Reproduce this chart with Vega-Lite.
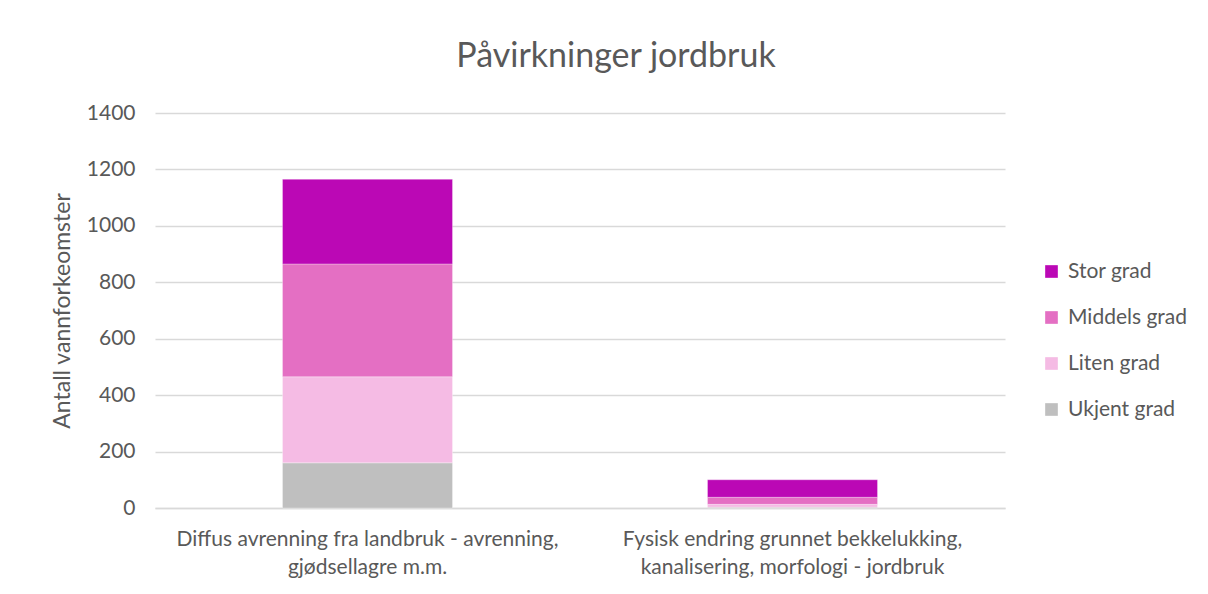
{
  "$schema": "https://vega.github.io/schema/vega-lite/v6.json",
  "width": 850,
  "height": 395,
  "autosize": "none",
  "padding": {"left": 155, "top": 113, "right": 203, "bottom": 86},
  "background": "white",
  "title": {
    "text": "Påvirkninger jordbruk",
    "font": "Lato",
    "fontSize": 34,
    "fontWeight": "normal",
    "color": "#595959",
    "anchor": "middle",
    "dx": 36,
    "offset": 28
  },
  "data": {
    "values": [
      {"kategori": "Diffus avrenning fra landbruk - avrenning, gjødsellagre m.m.", "grad": "Ukjent grad", "rekke": 1, "antall": 160},
      {"kategori": "Diffus avrenning fra landbruk - avrenning, gjødsellagre m.m.", "grad": "Liten grad", "rekke": 2, "antall": 305},
      {"kategori": "Diffus avrenning fra landbruk - avrenning, gjødsellagre m.m.", "grad": "Middels grad", "rekke": 3, "antall": 400},
      {"kategori": "Diffus avrenning fra landbruk - avrenning, gjødsellagre m.m.", "grad": "Stor grad", "rekke": 4, "antall": 300},
      {"kategori": "Fysisk endring grunnet bekkelukking, kanalisering, morfologi - jordbruk", "grad": "Ukjent grad", "rekke": 1, "antall": 3},
      {"kategori": "Fysisk endring grunnet bekkelukking, kanalisering, morfologi - jordbruk", "grad": "Liten grad", "rekke": 2, "antall": 10},
      {"kategori": "Fysisk endring grunnet bekkelukking, kanalisering, morfologi - jordbruk", "grad": "Middels grad", "rekke": 3, "antall": 25},
      {"kategori": "Fysisk endring grunnet bekkelukking, kanalisering, morfologi - jordbruk", "grad": "Stor grad", "rekke": 4, "antall": 62}
    ]
  },
  "mark": {"type": "bar", "stroke": "white", "strokeWidth": 0.5, "strokeOpacity": 0.6},
  "encoding": {
    "x": {
      "field": "kategori",
      "type": "nominal",
      "sort": null,
      "scale": {"paddingInner": 0.6, "paddingOuter": 0.3},
      "axis": {
        "title": null,
        "labelAngle": 0,
        "labelExpr": "datum.value == 'Diffus avrenning fra landbruk - avrenning, gjødsellagre m.m.' ? ['Diffus avrenning fra landbruk - avrenning,', 'gjødsellagre m.m.'] : ['Fysisk endring grunnet bekkelukking,', 'kanalisering, morfologi - jordbruk']",
        "labelFont": "Lato",
        "labelFontSize": 21,
        "labelColor": "#595959",
        "labelLineHeight": 28,
        "labelPadding": 20,
        "labelLimit": 600,
        "ticks": false,
        "domainColor": "#d9d9d9",
        "domainWidth": 1.5
      }
    },
    "y": {
      "field": "antall",
      "type": "quantitative",
      "scale": {"domain": [0, 1400]},
      "axis": {
        "title": "Antall vannforkeomster",
        "titleFont": "Lato",
        "titleFontSize": 23,
        "titleFontWeight": "normal",
        "titleColor": "#595959",
        "titlePadding": 12,
        "values": [0, 200, 400, 600, 800, 1000, 1200, 1400],
        "format": "d",
        "labelFont": "Lato",
        "labelFontSize": 21,
        "labelColor": "#595959",
        "labelPadding": 20,
        "ticks": false,
        "domain": false,
        "gridColor": "#d9d9d9",
        "gridWidth": 1.5
      }
    },
    "color": {
      "field": "grad",
      "type": "nominal",
      "scale": {
        "domain": ["Stor grad", "Middels grad", "Liten grad", "Ukjent grad"],
        "range": ["#BB08B5", "#E46FC3", "#F5BBE4", "#BFBFBF"]
      },
      "legend": {
        "title": null,
        "orient": "none",
        "legendX": 886,
        "legendY": 148,
        "symbolType": "square",
        "symbolSize": 160,
        "symbolStrokeWidth": 0,
        "labelFont": "Lato",
        "labelFontSize": 21,
        "labelColor": "#595959",
        "labelOffset": 6,
        "rowPadding": 24
      }
    },
    "order": {"field": "rekke", "type": "quantitative"}
  },
  "config": {"view": {"stroke": null}}
}
